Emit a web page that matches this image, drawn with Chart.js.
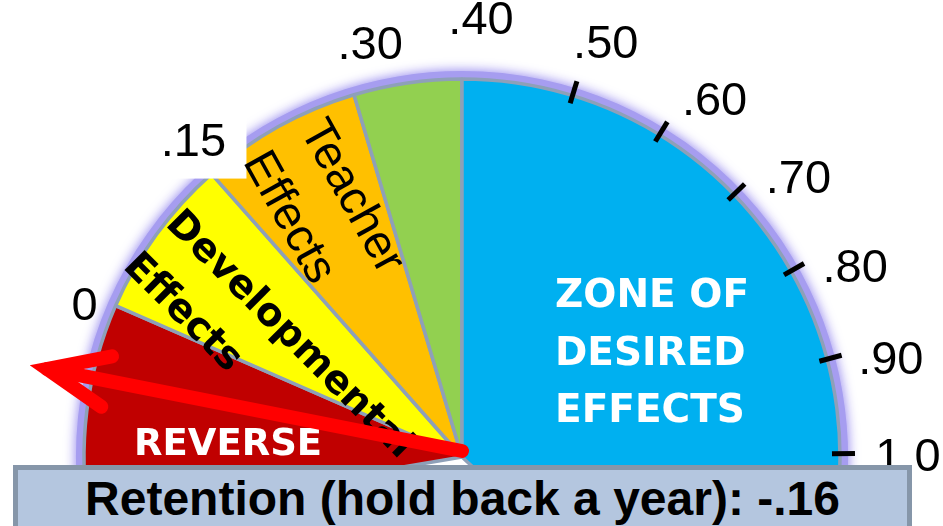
<!DOCTYPE html>
<html>
<head>
<meta charset="utf-8">
<script src="https://cdn.jsdelivr.net/npm/chart.js@4.4.1/dist/chart.umd.min.js"></script>
<style>
html,body{margin:0;padding:0;background:#fff;width:943px;height:526px;overflow:hidden;}
#wrap{position:relative;width:943px;height:526px;overflow:hidden;}
#c{position:absolute;left:0;top:0;}
#caption{position:absolute;left:13px;top:465px;width:889px;height:80px;background:#b4c6df;border:5px solid #8696a9;
  font:bold 48px "Liberation Sans",Arial,sans-serif;color:#000;text-align:center;line-height:48px;padding-top:5px;white-space:nowrap;}
</style>
</head>
<body>
<div id="wrap">
  <canvas id="c" width="943" height="526"></canvas>
  <div id="caption"></div>
</div>
<script>
// ---------------- data ----------------
const zoneNames  = ['Reverse', 'Developmental Effects', 'Teacher Effects', 'Hinge', 'Zone of Desired Effects'];
const zoneFrom   = [-0.20, 0.00, 0.15, 0.30, 0.40];
const zoneTo     = [ 0.00, 0.15, 0.30, 0.40, 1.20];
const zoneColors = ['#c00000', '#ffff00', '#ffc000', '#92d050', '#00b0f0'];
const leftTickValues  = [0, 0.15, 0.30, 0.40];
const leftTickLabels  = ['0', '.15', '.30', '.40'];
const rightTickValues = [0.50, 0.60, 0.70, 0.80, 0.90, 1.0];
const rightTickLabels = ['.50', '.60', '.70', '.80', '.90', '1.0'];
const influence  = 'Retention (hold back a year)';
const effectSize = -0.16;
const needleValue = -0.07;   // where the red arrow points on the dial

// ---------------- gauge geometry ----------------
const DEG = Math.PI / 180;
const R = 378;                 // dial radius
const leftDegPerUnit = 166;    // dial density left of .40
const rightDegPerUnit = 145;   // dial density of the tick scale right of .40
const rightStart = 2.5;
const leftAngle  = v => leftDegPerUnit * (v - 0.40);
const rightAngle = v => rightStart + rightDegPerUnit * (v - 0.40);
const polar = (cx, cy, deg, r) => [cx + r * Math.sin(deg * DEG), cy - r * Math.cos(deg * DEG)];

const widths = zoneFrom.map((f, i) => +(zoneTo[i] - f).toFixed(4));
const filler = 360 / leftDegPerUnit - widths.reduce((a, b) => a + b, 0);

document.getElementById('caption').textContent =
  influence + ': ' + (effectSize < 0 ? '-' : '') + Math.abs(effectSize).toFixed(2).replace(/^0/, '');

const LABEL_FONT = '47px "Liberation Sans", Arial, sans-serif';
const BOLD_FONT = px => 'bold ' + px + 'px "DejaVu Sans", sans-serif';

function rotText(ctx, lines, x, y, deg, font, color, lh) {
  ctx.save();
  ctx.translate(x, y);
  ctx.rotate(deg * DEG);
  ctx.font = font; ctx.fillStyle = color;
  ctx.textAlign = 'left'; ctx.textBaseline = 'alphabetic';
  lines.forEach((t, i) => ctx.fillText(t, 0, i * lh));
  ctx.restore();
}

const gaugePlugin = {
  id: 'gauge',
  beforeDatasetsDraw(chart) {
    const ctx = chart.ctx;
    const arcs = chart.getDatasetMeta(0).data;
    const a0 = arcs[0], a4 = arcs[4];
    ctx.save();
    ctx.beginPath();
    ctx.arc(a0.x, a0.y, a0.outerRadius + 3, a0.startAngle, a4.endAngle);
    ctx.lineWidth = 10;
    ctx.strokeStyle = '#a69df0';
    ctx.shadowColor = 'rgba(125,110,235,0.95)';
    ctx.shadowBlur = 12;
    ctx.stroke();
    ctx.restore();
  },
  afterDatasetsDraw(chart) {
    const ctx = chart.ctx;
    const arc = chart.getDatasetMeta(0).data[0];
    const cx = arc.x, cy = arc.y, r = arc.outerRadius;

    // tick marks on the right-hand scale
    ctx.save();
    ctx.strokeStyle = '#000'; ctx.lineWidth = 5; ctx.lineCap = 'butt';
    rightTickValues.forEach(v => {
      const a = rightAngle(v);
      const [x1, y1] = polar(cx, cy, a, r - 8);
      const [x2, y2] = polar(cx, cy, a, r + 15);
      ctx.beginPath(); ctx.moveTo(x1, y1); ctx.lineTo(x2, y2); ctx.stroke();
    });
    ctx.restore();

    // tick labels
    ctx.save();
    ctx.font = LABEL_FONT; ctx.textAlign = 'center'; ctx.textBaseline = 'middle';
    leftTickValues.forEach((v, i) => {
      let x, y;
      if (v < 0.40) {
        [x, y] = polar(cx, cy, leftAngle(v) - 2 + 20 * v, r + 28 + 50 * v);
      } else {
        [x, y] = polar(cx, cy, rightAngle(v), r + 58);
      }
      if (leftTickLabels[i] === '.15') {
        ctx.fillStyle = '#fff';
        ctx.fillRect(x - 46, y - 34, 99, 70);
      }
      ctx.fillStyle = '#000';
      ctx.fillText(leftTickLabels[i], x, y);
    });
    rightTickValues.forEach((v, i) => {
      const end = Math.max(0, (v - 0.85) / 0.15);
      const a = rightAngle(v) + 4.5 * Math.sin(Math.PI * (v - 0.40) / 0.60) + 0.6 * end;
      const [x, y] = polar(cx, cy, a, r + 58 + 10 * end);
      ctx.fillStyle = '#000';
      ctx.fillText(rightTickLabels[i], x, y);
    });
    ctx.restore();

    // zone texts
    rotText(ctx, ['Teacher', 'Effects'], cx - 162.6, cy - 327, 61, LABEL_FONT, '#000', 65);
    rotText(ctx, ['Developmental', 'Effects'], cx - 297.5, cy - 232, 45, BOLD_FONT(39), '#000', 60);
    rotText(ctx, ['REVERSE'], cx - 328, cy - 2, 0, BOLD_FONT(37), '#fff', 0);
    rotText(ctx, ['ZONE OF', 'DESIRED', 'EFFECTS'], cx + 93, cy - 150, 0, BOLD_FONT(39), '#fff', 57.5);

    // needle arrow
    const na = leftAngle(needleValue);
    const [tx, ty] = polar(cx, cy, na, r + 46);
    ctx.save();
    ctx.strokeStyle = '#ff0000'; ctx.lineWidth = 14; ctx.lineCap = 'round'; ctx.lineJoin = 'round';
    ctx.beginPath(); ctx.moveTo(cx, cy - 6); ctx.lineTo(tx, ty); ctx.stroke();
    const [ax1, ay1] = polar(tx, ty, na + 180 + 23, 66);
    const [ax2, ay2] = polar(tx, ty, na + 180 - 23, 66);
    ctx.lineJoin = 'miter'; ctx.miterLimit = 10;
    ctx.beginPath(); ctx.moveTo(ax1, ay1); ctx.lineTo(tx, ty); ctx.lineTo(ax2, ay2); ctx.stroke();
    ctx.restore();
  }
};

new Chart(document.getElementById('c'), {
  type: 'pie',
  data: {
    labels: zoneNames.concat(['']),
    datasets: [{
      data: widths.concat([filler]),
      backgroundColor: zoneColors.concat(['rgba(0,0,0,0)']),
      borderColor: zoneColors.map(() => '#8ea0b8').concat(['rgba(0,0,0,0)']),
      borderWidth: zoneColors.map(() => 3.5).concat([0]),
      clip: false
    }]
  },
  options: {
    responsive: false,
    animation: false,
    devicePixelRatio: 1,
    events: [],
    rotation: leftAngle(zoneFrom[0]),
    radius: R,
    layout: { padding: { left: 0, right: 19, top: 388, bottom: 0 } },
    plugins: { legend: { display: false }, tooltip: { enabled: false } }
  },
  plugins: [gaugePlugin]
});
</script>
</body>
</html>
